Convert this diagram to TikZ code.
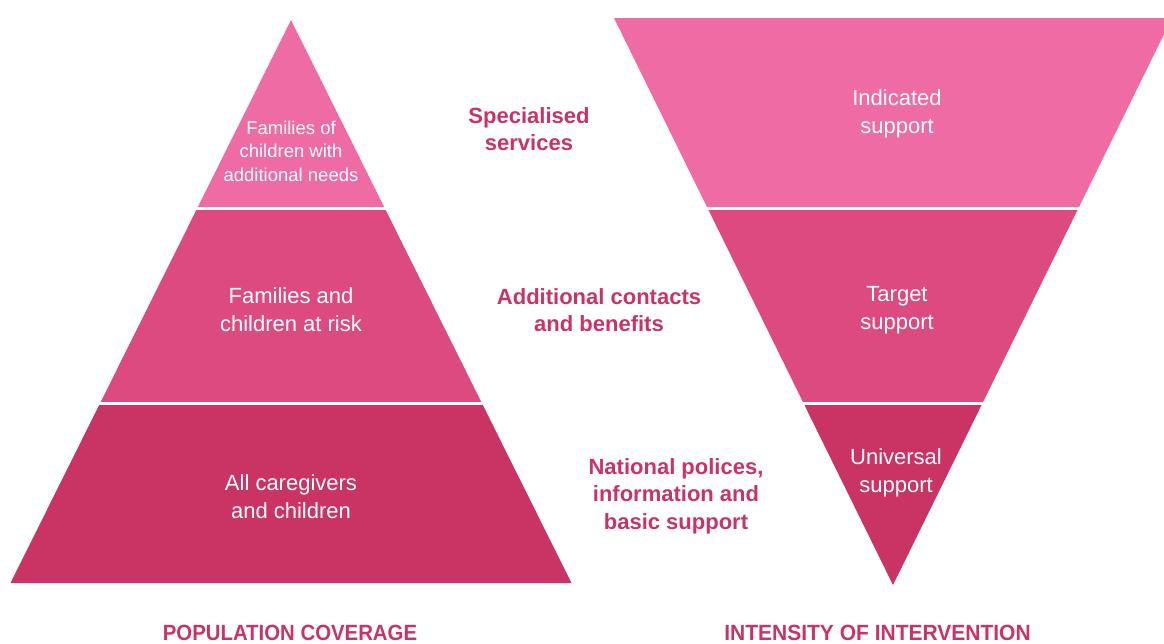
\documentclass[tikz,border=0pt]{standalone}
\usepackage{fontspec}
\setmainfont{Liberation Sans}
\usepackage{graphicx}
\definecolor{pinkA}{HTML}{EF6BA3}
\definecolor{pinkB}{HTML}{DC4A80}
\definecolor{pinkC}{HTML}{CA3465}
\definecolor{labelc}{HTML}{C93465}
\tikzset{
  intext/.style={text=white, align=center, inner sep=0pt, font=\fontsize{22}{28}\selectfont},
  smalltext/.style={text=white, align=center, inner sep=0pt, font=\fontsize{18.5}{23.5}\selectfont},
  sidelabel/.style={text=labelc, align=center, inner sep=0pt, font=\bfseries\fontsize{22}{27.5}\selectfont},
  axislabel/.style={text=labelc, inner sep=0pt, anchor=base, font=\bfseries\fontsize{22}{22}\selectfont},
}
\begin{document}
\begin{tikzpicture}[x=1pt,y=-1pt]
\useasboundingbox (0,0) rectangle (1164,643);
\clip (0,0) rectangle (1164,643);
\fill[white] (0,0) rectangle (1164,643);
% left pyramid
\begin{scope}
  \clip (291,20) -- (571.5,583) -- (10.5,583) -- cycle;
  \fill[pinkA] (0,0) rectangle (600,207);
  \fill[pinkB] (0,210) rectangle (600,402);
  \fill[pinkC] (0,405) rectangle (600,600);
\end{scope}
% right inverted pyramid
\begin{scope}
  \clip (614,18) -- (1172,18) -- (893,585) -- cycle;
  \fill[pinkA] (600,0) rectangle (1200,207);
  \fill[pinkB] (600,210) rectangle (1200,402);
  \fill[pinkC] (600,405) rectangle (1200,600);
\end{scope}
% texts inside left
\node[smalltext] (l1) at (291,151) {Families of\\children with\\additional needs};
\node[intext] (l2) at (291,310) {Families and\\children at risk};
\node[intext] (l3) at (291,497) {All caregivers\\and children};
% texts inside right
\node[intext] (r1) at (897,114) {Indicated\\support};
\node[intext] (r2) at (897,310) {Target\\support};
\node[intext] (r3) at (896,473) {Universal\\support};
% middle labels
\node[sidelabel] (m1) at (529,129) {Specialised\\services};
\node[sidelabel] (m2) at (599,310) {Additional contacts\\and benefits};
\node[sidelabel] (m3) at (676,496) {National polices,\\information and\\basic support};
% axis labels
\node[axislabel] (a1) at (290,640.5) {\scalebox{0.926}[1]{POPULATION COVERAGE}};
\node[axislabel] (a2) at (877.5,640.5) {\scalebox{0.954}[1]{INTENSITY OF INTERVENTION}};
\end{tikzpicture}
\end{document}
